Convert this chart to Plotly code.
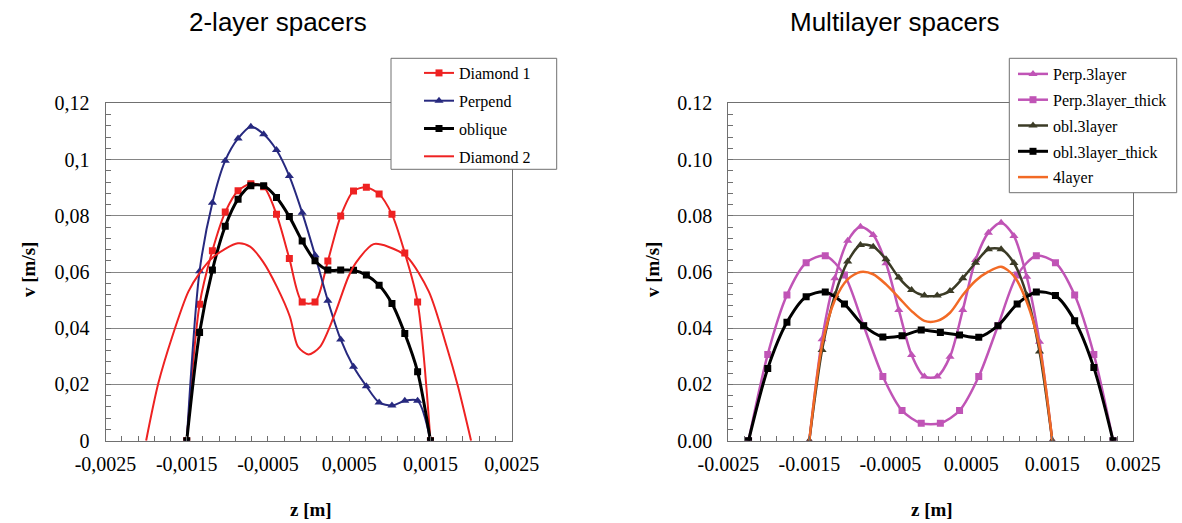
import plotly.graph_objects as go

# ---------------- data ----------------
# left chart (2-layer spacers)
z_two = [-0.0015, -0.001342, -0.001184, -0.001026, -0.000868, -0.000711, -0.000553,
         -0.000395, -0.000237, -0.000079, 0.000079, 0.000237, 0.000395, 0.000553,
         0.000711, 0.000868, 0.001026, 0.001184, 0.001342, 0.0015]
diamond1 = [0, 0.0485, 0.0676, 0.0813, 0.0889, 0.0914, 0.0903, 0.0805, 0.0648, 0.0493,
            0.0493, 0.0639, 0.0799, 0.0888, 0.0901, 0.0877, 0.0805, 0.0668, 0.0493, 0]
perpend = [0, 0.0603, 0.0846, 0.0996, 0.1075, 0.1117, 0.1090, 0.1034, 0.0941, 0.0811,
           0.0660, 0.0498, 0.0360, 0.0263, 0.0194, 0.0136, 0.0125, 0.0142, 0.0142, 0]
oblique = [0, 0.0385, 0.0607, 0.0763, 0.0859, 0.0907, 0.0907, 0.0865, 0.0797, 0.0710,
           0.0640, 0.0607, 0.0607, 0.0606, 0.0589, 0.0553, 0.0488, 0.0381, 0.0245, 0]
z_diamond2 = [-0.002, -0.00185, -0.00168, -0.00148, -0.00134, -0.00117, -0.00087, -0.00072,
              -0.00056, -0.00039, -0.00023, -0.00013, 0.0, 0.00014, 0.00031, 0.00049,
              0.00059, 0.00080, 0.00098, 0.00121, 0.00148, 0.00170, 0.00184, 0.002]
diamond2 = [0, 0.0204, 0.0369, 0.0530, 0.0597, 0.0654, 0.0702, 0.0690, 0.0636, 0.0547,
            0.0441, 0.0334, 0.0307, 0.0334, 0.0441, 0.0583, 0.0636, 0.0699, 0.0690,
            0.0654, 0.0530, 0.0334, 0.0192, 0]

# right chart (multilayer spacers)
z_thin = z_two
z_thick = [-0.00225, -0.002013, -0.001776, -0.001539, -0.001303, -0.001066, -0.000829,
           -0.000592, -0.000355, -0.000118, 0.000118, 0.000355, 0.000592, 0.000829,
           0.001066, 0.001303, 0.001539, 0.001776, 0.002013, 0.00225]
perp3 = [0, 0.0361, 0.0578, 0.0711, 0.0761, 0.0732, 0.0631, 0.0465, 0.0305, 0.0228,
         0.0228, 0.0299, 0.0465, 0.0643, 0.0740, 0.0775, 0.0728, 0.0583, 0.0352, 0]
perp3_thick = [0, 0.0307, 0.0518, 0.0633, 0.0658, 0.0589, 0.0409, 0.0228, 0.0107, 0.0062,
               0.0062, 0.0107, 0.0228, 0.0409, 0.0589, 0.0658, 0.0633, 0.0518, 0.0307, 0]
obl3 = [0, 0.0323, 0.0518, 0.0637, 0.0696, 0.0690, 0.0645, 0.0580, 0.0536, 0.0516,
        0.0516, 0.0532, 0.0578, 0.0633, 0.0681, 0.0681, 0.0632, 0.0518, 0.0317, 0]
obl3_thick = [0, 0.0257, 0.0421, 0.0512, 0.0529, 0.0486, 0.0409, 0.0369, 0.0373, 0.0394,
              0.0385, 0.0376, 0.0368, 0.0409, 0.0486, 0.0529, 0.0516, 0.0427, 0.0260, 0]
layer4 = [0, 0.0340, 0.0500, 0.0574, 0.0600, 0.0592, 0.0556, 0.0509, 0.0461, 0.0426,
          0.0426, 0.0455, 0.0518, 0.0569, 0.0601, 0.0619, 0.0586, 0.0494, 0.0334, 0]

x_ticks = [-0.0025, -0.0015, -0.0005, 0.0005, 0.0015, 0.0025]
x_text_left = ["-0,0025", "-0,0015", "-0,0005", "0,0005", "0,0015", "0,0025"]
x_text_right = ["-0.0025", "-0.0015", "-0.0005", "0.0005", "0.0015", "0.0025"]
y_ticks = [0, 0.02, 0.04, 0.06, 0.08, 0.10, 0.12]
y_text_left = ["0", "0,02", "0,04", "0,06", "0,08", "0,1", "0,12"]
y_text_right = ["0.00", "0.02", "0.04", "0.06", "0.08", "0.10", "0.12"]

# ---------------- styling ----------------
W, H = 1182, 523
SERIF = "Liberation Serif"
SANS = "Liberation Sans"
RED = "#ee2222"
NAVY = "#27297f"
MAG = "#c054b6"
OLIVE = "#3b3b26"
ORANGE = "#f26a25"


def px(x):
    return x / W


def py(y):
    return 1 - y / H


fig = go.Figure()


def add(x, y, name, color, width, symbol=None, msize=8, xa="x", ya="y", legend="legend"):
    mode = "lines+markers" if symbol else "lines"
    fig.add_trace(go.Scatter(
        x=x, y=y, name=name, mode=mode, xaxis=xa, yaxis=ya, legend=legend,
        legendgroup=name,
        line=dict(color=color, width=width, shape="spline", smoothing=0.8),
        marker=dict(symbol=symbol or "circle", size=msize, color=color) if symbol else None,
    ))


add(z_two, diamond1, "Diamond 1", RED, 2, "square", 7)
add(z_two, perpend, "Perpend", NAVY, 2, "triangle-up", 8)
add(z_two, oblique, "oblique", "#000000", 3, "square", 7)
add(z_diamond2, diamond2, "Diamond 2", RED, 2)

add(z_thin, perp3, "Perp.3layer", MAG, 2.5, "triangle-up", 8, "x2", "y2", "legend2")
add(z_thick, perp3_thick, "Perp.3layer_thick", MAG, 2.5, "square", 7, "x2", "y2", "legend2")
add(z_thin, obl3, "obl.3layer", OLIVE, 2.5, "triangle-up", 8, "x2", "y2", "legend2")
add(z_thick, obl3_thick, "obl.3layer_thick", "#000000", 3, "square", 7, "x2", "y2", "legend2")
add(z_thin, layer4, "4layer", ORANGE, 2.5, None, 0, "x2", "y2", "legend2")

tickfont = dict(family=SERIF, size=20, color="#000000")
LINE = "#707070"
GRID = "#858585"


def xaxis(domain, text, anchor):
    return dict(domain=domain, range=[-0.0025, 0.0025], anchor=anchor, automargin=False,
                tickmode="array", tickvals=x_ticks, ticktext=text,
                ticks="inside", ticklen=5, tickcolor=LINE, tickfont=tickfont,
                ticklabelstandoff=5,
                minor=dict(tickmode="linear", tick0=-0.0025, dtick=0.0002,
                           ticks="inside", ticklen=5, tickcolor=LINE),
                showline=True, linecolor=LINE, linewidth=1, mirror=True,
                showgrid=False, zeroline=False, fixedrange=True)


def yaxis(domain, text, anchor):
    return dict(domain=domain, range=[0, 0.12], anchor=anchor, automargin=False,
                tickmode="array", tickvals=y_ticks, ticktext=text,
                ticks="inside", ticklen=5, tickcolor=LINE, tickfont=tickfont,
                ticklabelstandoff=11,
                minor=dict(tickmode="linear", tick0=0, dtick=0.004,
                           ticks="inside", ticklen=5, tickcolor=LINE),
                showline=True, linecolor=LINE, linewidth=1, mirror=True,
                showgrid=True, gridcolor=GRID, gridwidth=1, zeroline=False,
                fixedrange=True)


ydom = [py(440.7), py(103.3)]
legfont = dict(family=SERIF, size=16, color="#000000")


def ann(text, x, y, size, family, angle=0):
    return dict(text=text, x=px(x), y=py(y), xref="paper", yref="paper",
                xanchor="center", yanchor="middle", showarrow=False, textangle=angle,
                font=dict(family=family, size=size, color="#000000"))


fig.update_layout(
    width=W, height=H,
    margin=dict(l=0, r=0, t=0, b=0, pad=0, autoexpand=False),
    paper_bgcolor="white", plot_bgcolor="white",
    xaxis=xaxis([px(105.5), px(511.7)], x_text_left, "y"),
    yaxis=yaxis(ydom, y_text_left, "x"),
    xaxis2=xaxis([px(728.3), px(1133.3)], x_text_right, "y2"),
    yaxis2=yaxis(ydom, y_text_right, "x2"),
    legend=dict(x=px(419), y=py(56), xanchor="left", yanchor="top",
                bgcolor="rgba(0,0,0,0)", borderwidth=0, font=legfont,
                tracegroupgap=4, itemwidth=30),
    legend2=dict(x=px(1013), y=py(57), xanchor="left", yanchor="top",
                 bgcolor="rgba(0,0,0,0)", borderwidth=0, font=legfont,
                 tracegroupgap=2, itemwidth=30),
    showlegend=True,
    shapes=[
        dict(type="rect", xref="paper", yref="paper", layer="above",
             x0=px(391), x1=px(556.7), y0=py(169.3), y1=py(58.3),
             line=dict(color="#707070", width=1), fillcolor="white"),
        dict(type="rect", xref="paper", yref="paper", layer="above",
             x0=px(1009.3), x1=px(1176.7), y0=py(192.7), y1=py(58.3),
             line=dict(color="#707070", width=1), fillcolor="white"),
    ],
    annotations=[
        ann("2-layer spacers", 278, 22, 26, SANS),
        ann("Multilayer spacers", 895, 22, 26, SANS),
        ann("<b>v [m/s]</b>", 28, 270, 19, SERIF, -90),
        ann("<b>v [m/s]</b>", 652, 270, 19, SERIF, -90),
        ann("<b>z [m]</b>", 311, 509, 19, SERIF),
        ann("<b>z [m]</b>", 932, 509, 19, SERIF),
    ],
)

fig.write_html("out.html")
